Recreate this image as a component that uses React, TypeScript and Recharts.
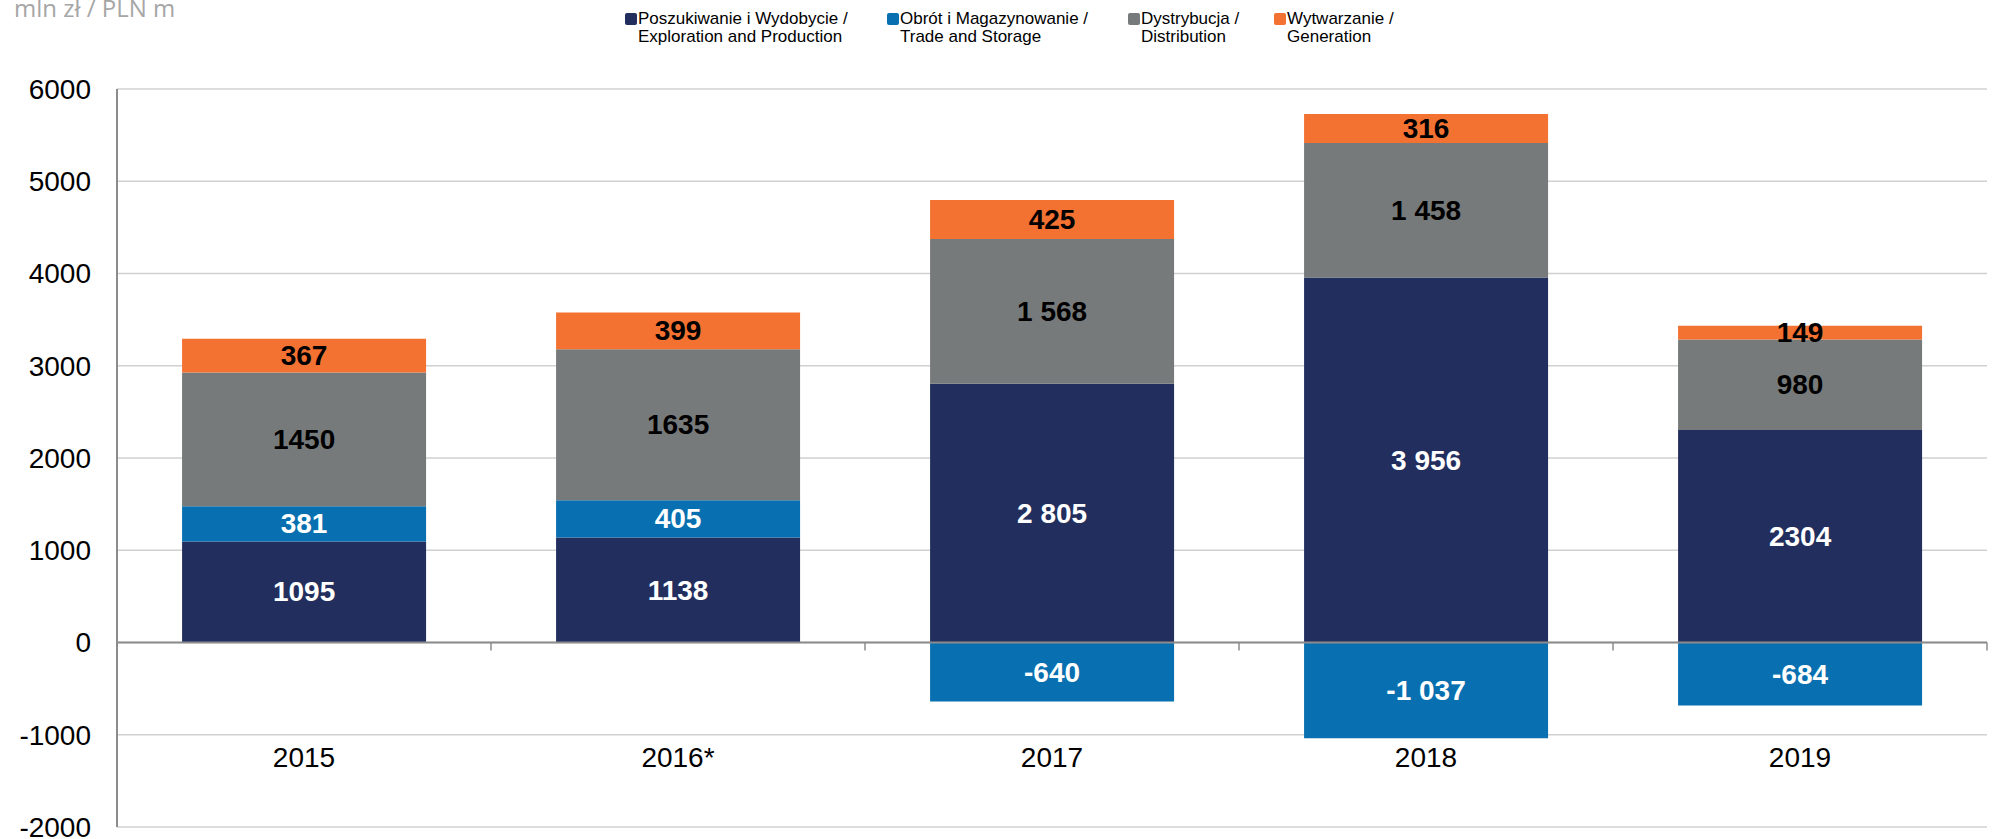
import React from 'react';
import { BarChart, Bar, XAxis, YAxis, CartesianGrid, ReferenceLine, LabelList } from 'recharts';

const categories = ['2015', '2016*', '2017', '2018', '2019'];
const exploration = [1095, 1138, 2805, 3956, 2304];
const trade = [381, 405, -640, -1037, -684];
const distribution = [1450, 1635, 1568, 1458, 980];
const generation = [367, 399, 425, 316, 149];
const yTicks = [-2000, -1000, 0, 1000, 2000, 3000, 4000, 5000, 6000];
// years where the source prints thousands with a space
const spacedYears = ['2017', '2018'];

const series = [
  { key: 'exploration', lines: ['Poszukiwanie i Wydobycie /', 'Exploration and Production'], color: '#222f5e', text: '#ffffff' },
  { key: 'trade', lines: ['Obrót i Magazynowanie /', 'Trade and Storage'], color: '#0870b0', text: '#ffffff' },
  { key: 'distribution', lines: ['Dystrybucja /', 'Distribution'], color: '#767a7b', text: '#000000' },
  { key: 'generation', lines: ['Wytwarzanie /', 'Generation'], color: '#f37131', text: '#000000' },
];
const legendLeft = [625, 887, 1128, 1274];

const data = categories.map((year, i) => ({
  year,
  exploration: exploration[i],
  trade: trade[i],
  distribution: distribution[i],
  generation: generation[i],
}));

const FONT = '"Liberation Sans", Arial, sans-serif';

const fmt = (v: number, year: string) => {
  const s = String(Math.abs(v));
  const body = spacedYears.includes(year) ? s.replace(/\B(?=(\d{3})+(?!\d))/g, ' ') : s;
  return (v < 0 ? '-' : '') + body;
};

const makeLabel = (color: string) => (props: any) => {
  const { x, y, width, height, value, index } = props;
  return (
    <text
      x={x + width / 2}
      y={y + height / 2}
      textAnchor="middle"
      dominantBaseline="central"
      fill={color}
      fontFamily={FONT}
      fontSize={28}
      fontWeight="bold"
    >
      {fmt(value, categories[index])}
    </text>
  );
};

const XTick = (props: any) => {
  const { x, y, payload } = props;
  return (
    <text x={x} y={y} dy={-60} textAnchor="middle" fill="#000" fontFamily={FONT} fontSize={28}>
      {payload.value}
    </text>
  );
};

const ZeroLine = (props: any) => {
  const { x1, x2, y1 } = props;
  const step = (x2 - x1) / categories.length;
  return (
    <g>
      <line x1={x1} x2={x2} y1={y1} y2={y1} stroke="#8c8c8c" strokeWidth={2} />
      {categories.map((c, i) => (
        <line key={c} x1={x1 + step * (i + 1)} x2={x1 + step * (i + 1)} y1={y1} y2={y1 + 8} stroke="#8c8c8c" strokeWidth={1.5} />
      ))}
    </g>
  );
};

export default function App() {
  return (
    <div style={{ position: 'absolute', left: 0, top: 0, width: 1995, height: 839, background: '#fff', overflow: 'hidden' }}>
      <div
        style={{
          position: 'absolute',
          left: 14,
          top: -4,
          fontFamily: '"Open Sans", sans-serif',
          fontSize: 24,
          lineHeight: 1,
          color: '#a6a6a6',
          whiteSpace: 'nowrap',
        }}
      >
        mln zł / PLN m
      </div>
      {series.map((s, i) => (
        <div
          key={s.key}
          style={{
            position: 'absolute',
            left: legendLeft[i],
            top: 10,
            display: 'flex',
            fontFamily: FONT,
            fontSize: 17,
            lineHeight: '18px',
            color: '#000',
          }}
        >
          <div style={{ width: 12, height: 12, background: s.color, borderRadius: 2, marginTop: 3, marginRight: 1 }} />
          <div style={{ whiteSpace: 'nowrap' }}>
            {s.lines[0]}
            <br />
            {s.lines[1]}
          </div>
        </div>
      ))}
      <BarChart
        width={1995}
        height={839}
        data={data}
        stackOffset="sign"
        barCategoryGap="17.4%"
        margin={{ top: 89, right: 8, bottom: 0, left: 0 }}
      >
        <CartesianGrid vertical={false} stroke="#d0d0d0" strokeWidth={1.5} />
        <XAxis dataKey="year" height={12} axisLine={false} tickLine={false} tickSize={0} tickMargin={0} interval={0} tick={<XTick />} />
        <YAxis
          width={117}
          domain={[-2000, 6000]}
          ticks={yTicks}
          interval={0}
          axisLine={{ stroke: '#8c8c8c', strokeWidth: 2 }}
          tickLine={false}
          tickSize={0}
          tickMargin={26}
          tick={{ fill: '#000', fontFamily: FONT, fontSize: 28 }}
        />
        <ReferenceLine y={0} shape={<ZeroLine />} />
        {series.map((s) => (
          <Bar key={s.key} dataKey={s.key} stackId="a" fill={s.color} isAnimationActive={false}>
            <LabelList dataKey={s.key} content={makeLabel(s.text)} />
          </Bar>
        ))}
      </BarChart>
    </div>
  );
}
